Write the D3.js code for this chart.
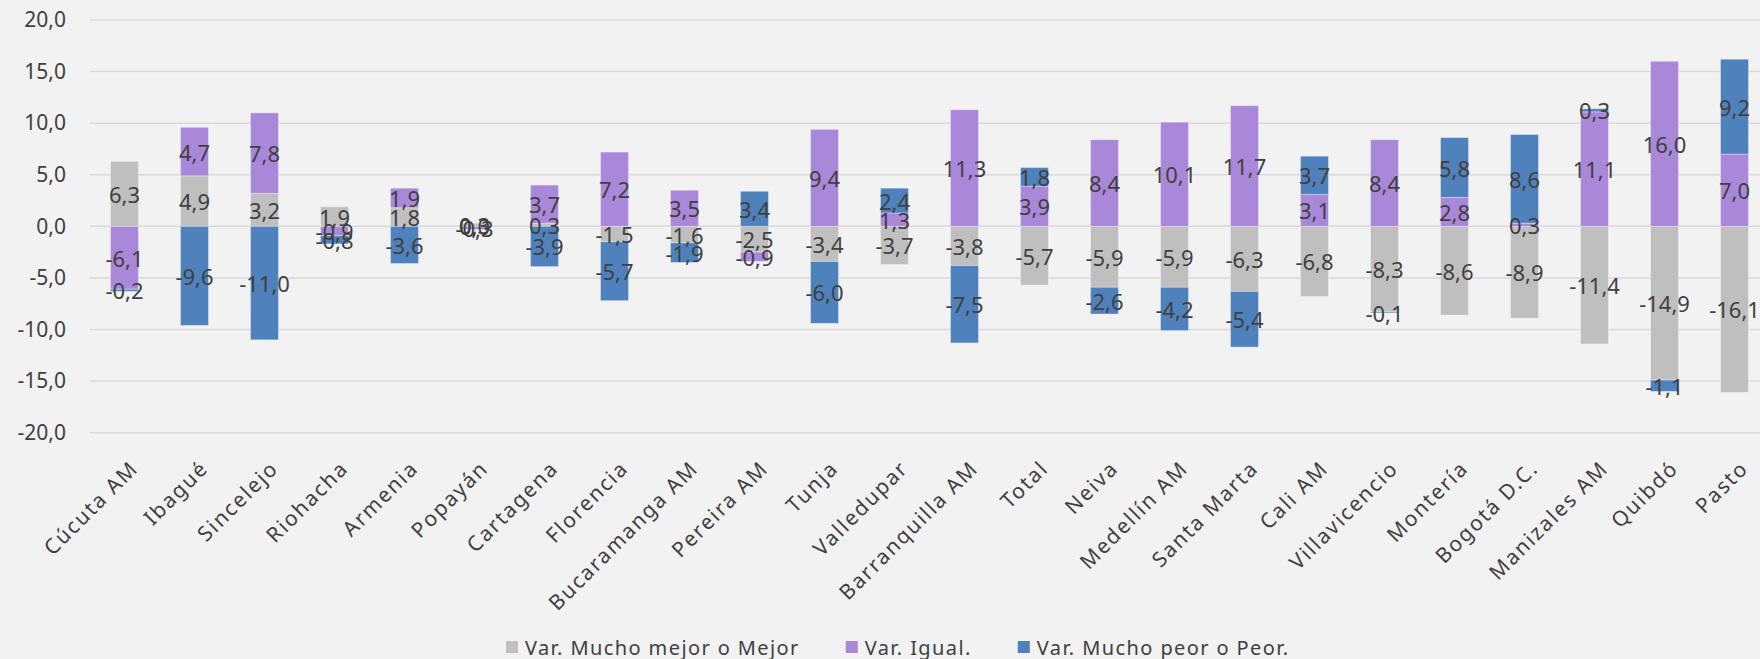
<!DOCTYPE html>
<html>
<head>
<meta charset="utf-8">
<script src="https://cdn.jsdelivr.net/npm/d3@7"></script>
<style>
  html, body { margin: 0; padding: 0; background: #F2F2F2; }
  svg { display: block; }
  text { font-family: "Noto Sans", "Open Sans", sans-serif; fill: #404040; }
</style>
</head>
<body>
<script>
const categories = ["Cúcuta AM", "Ibagué", "Sincelejo", "Riohacha", "Armenia", "Popayán", "Cartagena", "Florencia", "Bucaramanga AM", "Pereira AM", "Tunja", "Valledupar", "Barranquilla AM", "Total", "Neiva", "Medellín AM", "Santa Marta", "Cali AM", "Villavicencio", "Montería", "Bogotá D.C.", "Manizales AM", "Quibdó", "Pasto"];
const mejor = [6.3, 4.9, 3.2, 1.9, 1.8, 0.3, 0.3, -1.5, -1.6, -2.5, -3.4, -3.7, -3.8, -5.7, -5.9, -5.9, -6.3, -6.8, -8.3, -8.6, -8.9, -11.4, -14.9, -16.1];
const igual = [-6.1, 4.7, 7.8, -0.9, 1.9, -0.3, 3.7, 7.2, 3.5, -0.9, 9.4, 1.3, 11.3, 3.9, 8.4, 10.1, 11.7, 3.1, 8.4, 2.8, 0.3, 11.1, 16.0, 7.0];
const peor = [-0.2, -9.6, -11.0, -0.8, -3.6, 0.0, -3.9, -5.7, -1.9, 3.4, -6.0, 2.4, -7.5, 1.8, -2.6, -4.2, -5.4, 3.7, -0.1, 5.8, 8.6, 0.3, -1.1, 9.2];
const seriesNames = ["Var. Mucho mejor o Mejor", "Var. Igual.", "Var. Mucho peor o Peor."];
const seriesKeys = ["mejor", "igual", "peor"];
const seriesColors = ["#BFBFBF", "#A987D9", "#4F81BD"];
const yTicks = [-20, -15, -10, -5, 0, 5, 10, 15, 20];

const W = 1760, H = 659;
const locale = d3.formatLocale({decimal: ",", thousands: ".", grouping: [3], currency: ["", ""], minus: "-"});
const fmt = locale.format(".1f");

const rows = categories.map((c, i) => ({cat: c, mejor: mejor[i], igual: igual[i], peor: peor[i]}));

const svg = d3.select("body").append("svg").attr("width", W).attr("height", H);

const x = d3.scaleBand().domain(categories).range([89.5, 1769.5]).paddingInner(0.6).paddingOuter(0.3);
const y = d3.scaleLinear().domain([-20, 20]).range([432.7, 20]);

// gridlines
svg.append("g").selectAll("line").data(yTicks).join("line")
  .attr("x1", 90).attr("x2", W)
  .attr("y1", d => y(d)).attr("y2", d => y(d))
  .attr("stroke", "#D9D9D9").attr("stroke-width", 1.5);

// y axis labels
const yAxis = d3.axisLeft(y).tickValues(yTicks).tickFormat(fmt).tickSize(0).tickPadding(0);
const gy = svg.append("g").attr("transform", "translate(66,0)").call(yAxis);
gy.select(".domain").remove();
gy.selectAll("text").attr("font-size", 21).attr("fill", "#404040")
  .style("font-family", '"Noto Sans", sans-serif');

// stacked bars
const stack = d3.stack().keys(seriesKeys).offset(d3.stackOffsetDiverging);
const stacked = stack(rows);

const gBars = svg.append("g");
stacked.forEach((s, si) => {
  gBars.append("g").selectAll("rect").data(s).join("rect")
    .attr("x", d => x(d.data.cat))
    .attr("width", x.bandwidth())
    .attr("y", d => y(Math.max(d[0], d[1])))
    .attr("height", d => Math.abs(y(d[0]) - y(d[1])))
    .attr("fill", seriesColors[si])
    .attr("stroke", "#ffffff").attr("stroke-opacity", 0.35).attr("stroke-width", 1);
});

// data labels
const gLab = svg.append("g");
stacked.forEach((s, si) => {
  gLab.append("g").selectAll("text").data(s).join("text")
    .attr("x", d => x(d.data.cat) + x.bandwidth() / 2)
    .attr("y", d => y((d[0] + d[1]) / 2))
    .attr("text-anchor", "middle")
    .attr("dominant-baseline", "central")
    .attr("font-size", 22)
    .text(d => fmt(d.data[seriesKeys[si]]));
});

// category axis labels
const xAxis = d3.axisBottom(x).tickSize(0).tickPadding(0);
const gx = svg.append("g").attr("transform", "translate(0,432.7)").call(xAxis);
gx.select(".domain").remove();
gx.selectAll("text")
  .attr("font-size", 21)
  .attr("fill", "#404040")
  .style("font-family", '"Noto Sans", sans-serif')
  .style("letter-spacing", "1.8px")
  .attr("text-anchor", "end")
  .attr("dy", null)
  .attr("y", 0)
  .attr("transform", "translate(15,37) rotate(-45)");

// legend
const leg = svg.append("g").attr("transform", "translate(0,647)");
let lx = 506;
seriesNames.forEach((name, i) => {
  leg.append("rect").attr("x", lx).attr("y", -6).attr("width", 12).attr("height", 12).attr("fill", seriesColors[i]);
  const t = leg.append("text").attr("x", lx + 19).attr("y", 0)
    .attr("dominant-baseline", "central").attr("font-size", 20)
    .style("letter-spacing", "1.4px").text(name);
  const w = t.node().getComputedTextLength();
  lx += 19 + w + 46;
});
</script>
</body>
</html>
